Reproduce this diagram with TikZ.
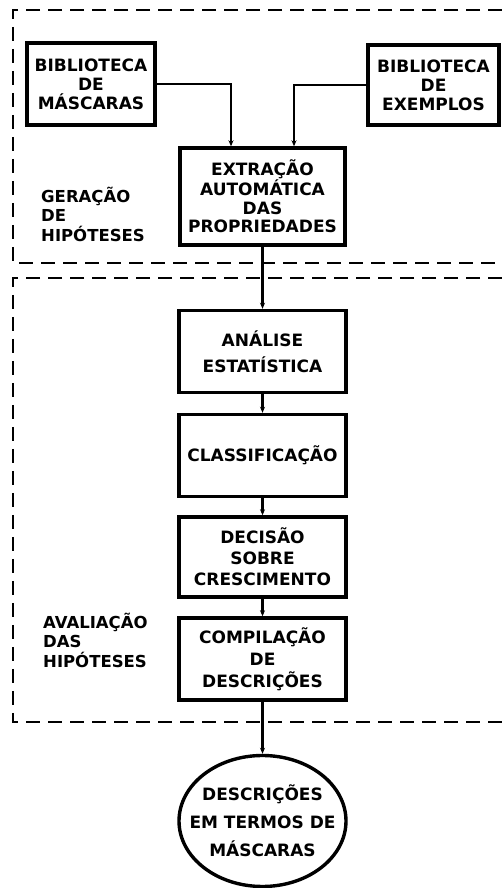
\documentclass[tikz,border=0pt]{standalone}
\usepackage{fontspec}
\setmainfont{DejaVu Sans}
\usepackage[dvipsnames]{xcolor}
\usetikzlibrary{shapes.geometric,arrows.meta}

\begin{document}
\begin{tikzpicture}[x=1pt,y=1pt,->,>={Stealth[length=6pt,width=5pt]},line width=2.4pt,node distance=102pt,
    box node/.style={rectangle,draw,line width=3.4pt,minimum width=167pt,minimum height=82pt,inner sep=2pt,align=center,font=\fontsize{17}{#1}\selectfont\bfseries},
    box node/.default=19,
    side node/.style={align=left,anchor=west,inner sep=0pt,font=\fontsize{16.5}{19.5}\selectfont\bfseries},
    region/.style={-,line width=2.2pt,dash pattern=on 14pt off 8pt}]

                \useasboundingbox (0,0) rectangle (502,888);

                \node[box node, minimum width=128pt] (1) at (91,804) {BIBLIOTECA\\DE\\MÁSCARAS};
                \node[box node, minimum width=131pt, minimum height=80pt] (2) at (433.5,803) {BIBLIOTECA\\DE\\EXEMPLOS};
                \node[box node=18.5, minimum width=165pt, minimum height=97pt] (3) at (262.5,691.5) {EXTRAÇÃO\\AUTOMÁTICA\\DAS\\PROPRIEDADES};
                \node[box node=26] (4) [below of = 3, node distance=155pt] {ANÁLISE\\ESTATÍSTICA};
                \node[box node] (5) [below of = 4, node distance=104pt] {CLASSIFICAÇÃO};
                \node[box node=21, minimum height=80pt] (6) [below of = 5, node distance=101.5pt] {DECISÃO\\SOBRE\\CRESCIMENTO};
                \node[box node=22] (7) [below of = 6] {COMPILAÇÃO\\DE\\DESCRIÇÕES};
                \node[box node=28, ellipse, inner sep=-24pt, minimum width=167pt, minimum height=131pt] (8) [below of = 7, node distance=162pt] {DESCRIÇÕES\\EM TERMOS DE\\MÁSCARAS};

                \node[side node] (g) at (40,674) {GERAÇÃO\\DE\\HIPÓTESES};
                \node[side node] (a) at (42,248) {AVALIAÇÃO\\DAS\\HIPÓTESES};

                \draw[region] (502,878) -| (13,625) -- (502,625);
                \draw[region] (502,610) -| (13,166) -- (502,166);

                \draw (1.east) -| ([xshift=-31.5pt]3.north);
                \draw (2.west) -| ([xshift=31.5pt]3.north);
                \draw (3) to (4);
                \draw (4) to (5);
                \draw (5) to (6);
                \draw (6) to (7);
                \draw (7) to (8);

            \end{tikzpicture}
\end{document}
